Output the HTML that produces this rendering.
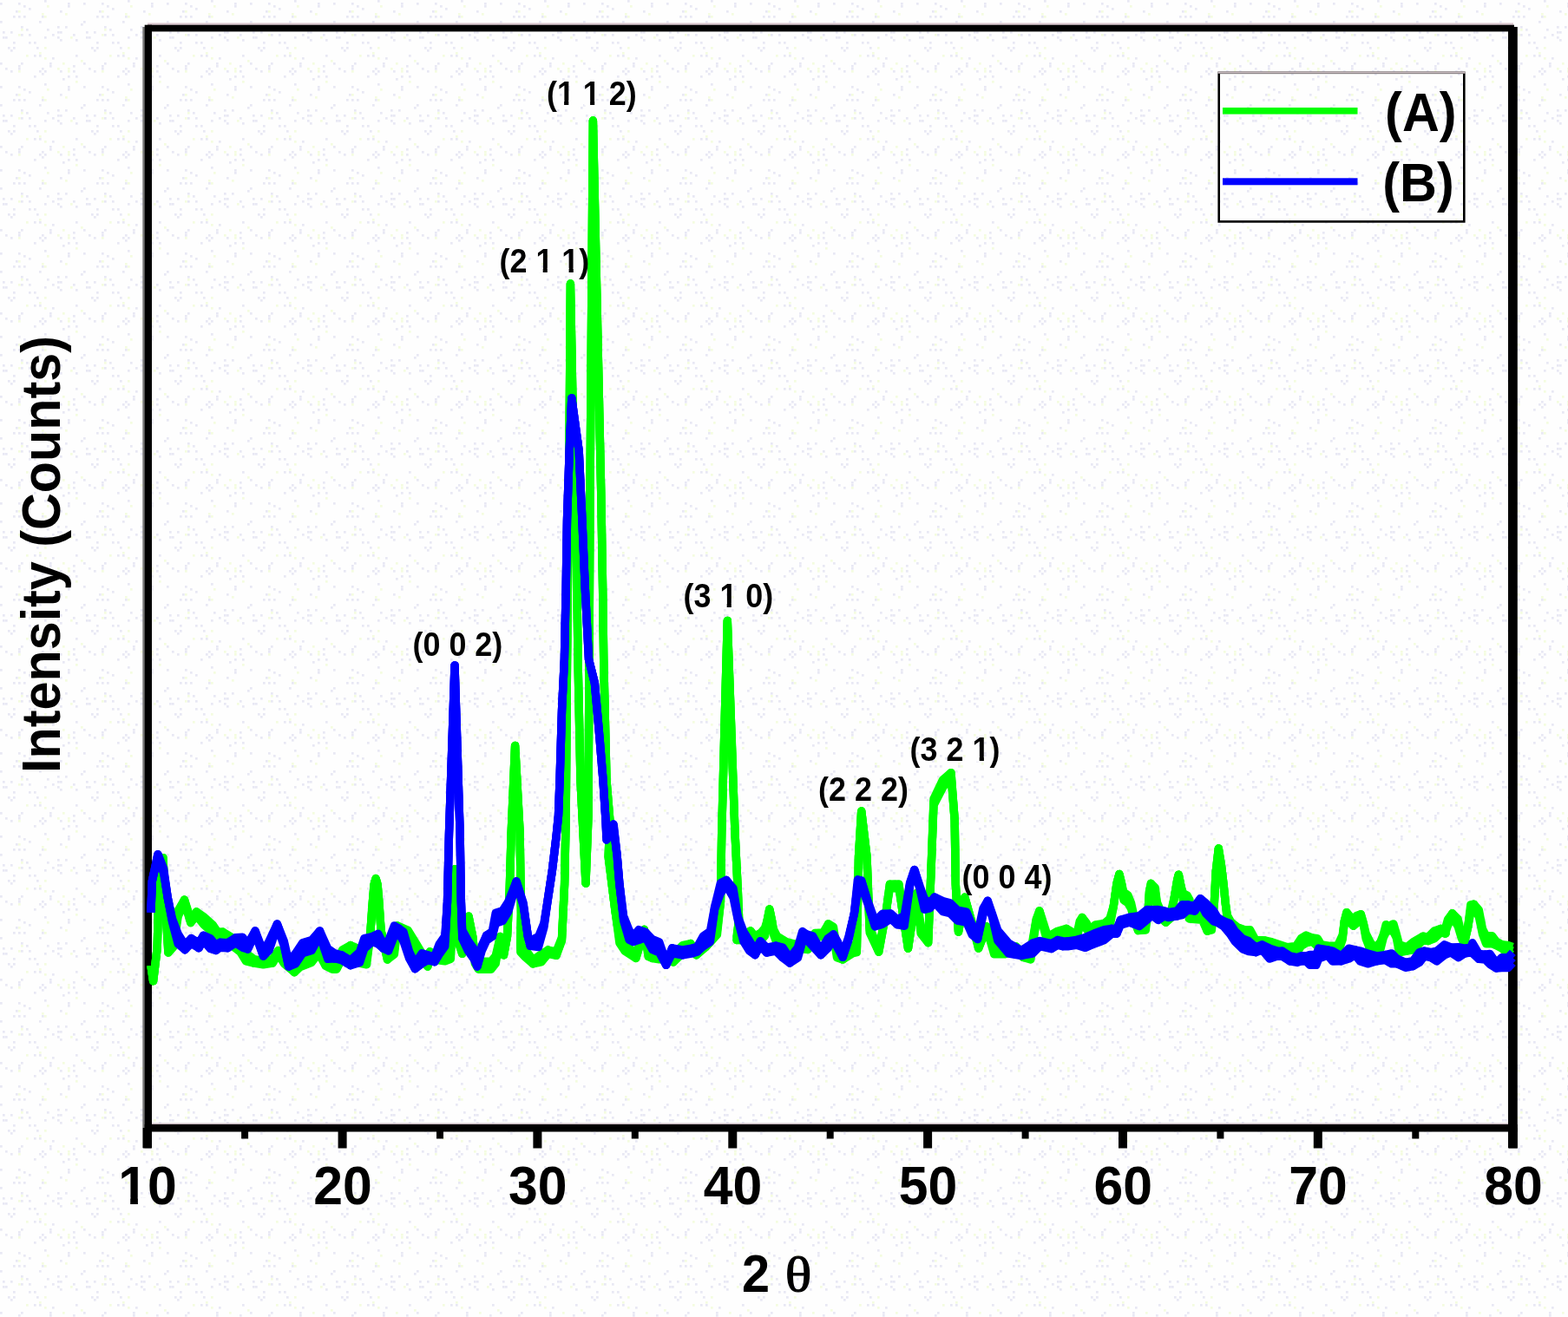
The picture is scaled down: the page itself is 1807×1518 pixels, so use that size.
<!DOCTYPE html>
<html lang="en">
<head>
<meta charset="utf-8">
<title>XRD pattern</title>
<style>
html,body{margin:0;padding:0;background:#fefefe;}
body{width:1807px;height:1518px;}
svg{display:block;}
text{font-family:"Liberation Sans",Arial,Helvetica,sans-serif;font-weight:bold;fill:#000;}
.tick text{font-size:62.6px;}
.pk text{font-size:38px;}
.lg text{font-size:63px;}
.curve{fill:none;stroke-linejoin:round;stroke-linecap:butt;}
</style>
</head>
<body>
<svg width="1807" height="1518" viewBox="0 0 1807 1518">
<defs><pattern id="nz" width="96" height="96" patternUnits="userSpaceOnUse"><rect x="69" y="45" width="2.7" height="2.7" fill="#e8e8f4"/><rect x="48" y="84" width="2.7" height="2.7" fill="#e8e8f4"/><rect x="15" y="54" width="2.7" height="2.7" fill="#e8e8f4"/><rect x="78" y="3" width="2.7" height="2.7" fill="#e8e8f4"/><rect x="84" y="75" width="2.7" height="2.7" fill="#e8e8f4"/><rect x="21" y="3" width="2.7" height="2.7" fill="#e8e8f4"/><rect x="78" y="87" width="2.7" height="2.7" fill="#e8e8f4"/><rect x="3" y="36" width="2.7" height="2.7" fill="#e8e8f4"/><rect x="21" y="78" width="2.7" height="2.7" fill="#e8e8f4"/><rect x="27" y="18" width="2.7" height="2.7" fill="#e8e8f4"/><rect x="45" y="81" width="2.7" height="2.7" fill="#e8e8f4"/><rect x="87" y="93" width="2.7" height="2.7" fill="#f4fce0"/><rect x="0" y="24" width="2.7" height="2.7" fill="#e8e8f4"/><rect x="12" y="57" width="2.7" height="2.7" fill="#e8e8f4"/><rect x="69" y="81" width="2.7" height="2.7" fill="#e8e8f4"/><rect x="39" y="48" width="2.7" height="2.7" fill="#e8e8f4"/><rect x="21" y="18" width="2.7" height="2.7" fill="#e8e8f4"/><rect x="48" y="15" width="2.7" height="2.7" fill="#f4fce0"/><rect x="48" y="78" width="2.7" height="2.7" fill="#e8e8f4"/><rect x="78" y="81" width="2.7" height="2.7" fill="#f4fce0"/><rect x="42" y="54" width="2.7" height="2.7" fill="#e8e8f4"/><rect x="72" y="72" width="2.7" height="2.7" fill="#f4fce0"/><rect x="51" y="66" width="2.7" height="2.7" fill="#f4fce0"/><rect x="21" y="81" width="2.7" height="2.7" fill="#f4fce0"/><rect x="81" y="42" width="2.7" height="2.7" fill="#f4fce0"/><rect x="30" y="63" width="2.7" height="2.7" fill="#f4fce0"/><rect x="51" y="0" width="2.7" height="2.7" fill="#e8e8f4"/><rect x="51" y="81" width="2.7" height="2.7" fill="#e8e8f4"/><rect x="54" y="33" width="2.7" height="2.7" fill="#e8e8f4"/><rect x="24" y="33" width="2.7" height="2.7" fill="#f4fce0"/><rect x="12" y="81" width="2.7" height="2.7" fill="#e8e8f4"/><rect x="48" y="18" width="2.7" height="2.7" fill="#e8e8f4"/><rect x="33" y="48" width="2.7" height="2.7" fill="#e8e8f4"/><rect x="75" y="30" width="2.7" height="2.7" fill="#e8e8f4"/><rect x="21" y="39" width="2.7" height="2.7" fill="#f4fce0"/><rect x="87" y="87" width="2.7" height="2.7" fill="#e8e8f4"/><rect x="0" y="72" width="2.7" height="2.7" fill="#e8e8f4"/><rect x="60" y="66" width="2.7" height="2.7" fill="#e8e8f4"/><rect x="3" y="42" width="2.7" height="2.7" fill="#e8e8f4"/><rect x="6" y="78" width="2.7" height="2.7" fill="#e8e8f4"/><rect x="21" y="12" width="2.7" height="2.7" fill="#f4fce0"/><rect x="57" y="75" width="2.7" height="2.7" fill="#e8e8f4"/><rect x="6" y="42" width="2.7" height="2.7" fill="#e8e8f4"/><rect x="39" y="63" width="2.7" height="2.7" fill="#e8e8f4"/><rect x="9" y="54" width="2.7" height="2.7" fill="#e8e8f4"/><rect x="57" y="72" width="2.7" height="2.7" fill="#e8e8f4"/><rect x="18" y="12" width="2.7" height="2.7" fill="#e8e8f4"/><rect x="21" y="75" width="2.7" height="2.7" fill="#e8e8f4"/><rect x="69" y="12" width="2.7" height="2.7" fill="#e8e8f4"/><rect x="78" y="6" width="2.7" height="2.7" fill="#e8e8f4"/><rect x="75" y="15" width="2.7" height="2.7" fill="#f4fce0"/><rect x="69" y="36" width="2.7" height="2.7" fill="#e8e8f4"/><rect x="15" y="48" width="2.7" height="2.7" fill="#e8e8f4"/><rect x="66" y="36" width="2.7" height="2.7" fill="#e8e8f4"/><rect x="60" y="39" width="2.7" height="2.7" fill="#e8e8f4"/><rect x="15" y="18" width="2.7" height="2.7" fill="#e8e8f4"/><rect x="24" y="30" width="2.7" height="2.7" fill="#e8e8f4"/><rect x="45" y="63" width="2.7" height="2.7" fill="#e8e8f4"/><rect x="87" y="63" width="2.7" height="2.7" fill="#e8e8f4"/><rect x="33" y="39" width="2.7" height="2.7" fill="#e8e8f4"/><rect x="30" y="33" width="2.7" height="2.7" fill="#e8e8f4"/><rect x="51" y="42" width="2.7" height="2.7" fill="#e8e8f4"/><rect x="93" y="27" width="2.7" height="2.7" fill="#e8e8f4"/><rect x="39" y="87" width="2.7" height="2.7" fill="#e8e8f4"/><rect x="66" y="42" width="2.7" height="2.7" fill="#e8e8f4"/><rect x="93" y="69" width="2.7" height="2.7" fill="#f4fce0"/><rect x="24" y="39" width="2.7" height="2.7" fill="#e8e8f4"/><rect x="33" y="9" width="2.7" height="2.7" fill="#e8e8f4"/><rect x="66" y="78" width="2.7" height="2.7" fill="#f4fce0"/><rect x="51" y="18" width="2.7" height="2.7" fill="#f4fce0"/><rect x="84" y="81" width="2.7" height="2.7" fill="#e8e8f4"/><rect x="66" y="30" width="2.7" height="2.7" fill="#e8e8f4"/><rect x="45" y="60" width="2.7" height="2.7" fill="#f4fce0"/><rect x="72" y="90" width="2.7" height="2.7" fill="#e8e8f4"/><rect x="87" y="45" width="2.7" height="2.7" fill="#e8e8f4"/><rect x="0" y="3" width="2.7" height="2.7" fill="#e8e8f4"/><rect x="51" y="54" width="2.7" height="2.7" fill="#f4fce0"/><rect x="78" y="78" width="2.7" height="2.7" fill="#f4fce0"/><rect x="27" y="6" width="2.7" height="2.7" fill="#e8e8f4"/><rect x="45" y="24" width="2.7" height="2.7" fill="#e8e8f4"/><rect x="84" y="39" width="2.7" height="2.7" fill="#e8e8f4"/><rect x="24" y="72" width="2.7" height="2.7" fill="#e8e8f4"/><rect x="54" y="6" width="2.7" height="2.7" fill="#f4fce0"/><rect x="12" y="36" width="2.7" height="2.7" fill="#e8e8f4"/></pattern></defs>
<rect x="0" y="0" width="1807" height="1518" fill="#fefefe"/>
<rect x="0" y="0" width="1807" height="1518" fill="url(#nz)"/>
<!-- frame -->
<g fill="#000">
<rect x="164.3" y="31" width="3" height="1292" fill="#777"/>
<rect x="170" y="26.5" width="1574" height="2.2" fill="#d9c4cc"/>
<rect x="166.7" y="28.7" width="8.3" height="1294.5"/>
<rect x="170" y="28.7" width="1575" height="7.7"/>
<rect x="1738" y="31" width="10.8" height="1292.3"/>
<rect x="175" y="1294.6" width="1563" height="1.6" fill="#c4b4bc"/>
<rect x="166.7" y="1296" width="1582" height="8.5"/>
<rect x="164.7" y="1300" width="10" height="23.5"/>
<rect x="278.1" y="1300" width="8" height="12.5"/>
<rect x="389.6" y="1300" width="10" height="23.5"/>
<rect x="503.0" y="1300" width="8" height="12.5"/>
<rect x="614.4" y="1300" width="10" height="23.5"/>
<rect x="727.8" y="1300" width="8" height="12.5"/>
<rect x="839.3" y="1300" width="10" height="23.5"/>
<rect x="952.7" y="1300" width="8" height="12.5"/>
<rect x="1064.1" y="1300" width="10" height="23.5"/>
<rect x="1177.6" y="1300" width="8" height="12.5"/>
<rect x="1289.0" y="1300" width="10" height="23.5"/>
<rect x="1402.4" y="1300" width="8" height="12.5"/>
<rect x="1513.8" y="1300" width="10" height="23.5"/>
<rect x="1627.3" y="1300" width="8" height="12.5"/>
<rect x="1738.7" y="1300" width="10" height="23.5"/>
</g>
<g class="tick">
<text transform="translate(170.0,1388.4) scale(0.97,1)" text-anchor="middle">10</text>
<text transform="translate(394.9,1388.4) scale(0.97,1)" text-anchor="middle">20</text>
<text transform="translate(619.7,1388.4) scale(0.97,1)" text-anchor="middle">30</text>
<text transform="translate(844.6,1388.4) scale(0.97,1)" text-anchor="middle">40</text>
<text transform="translate(1069.4,1388.4) scale(0.97,1)" text-anchor="middle">50</text>
<text transform="translate(1294.3,1388.4) scale(0.97,1)" text-anchor="middle">60</text>
<text transform="translate(1519.1,1388.4) scale(0.97,1)" text-anchor="middle">70</text>
<text transform="translate(1744.0,1388.4) scale(0.97,1)" text-anchor="middle">80</text>
</g>
<!-- curves -->
<polyline class="curve" stroke="#00ff00" stroke-width="9.4" points="173.9,1112.7 176.6,1130.7 181.2,1092.8 183.2,1015.8 187.9,988.6 191.2,1053.0 193.9,1094.1 199.8,1083.5 205.2,1049.7 212.5,1037.0 219.8,1059.8 226.4,1051.0 234.4,1056.4 245.0,1065.7 250.3,1073.7 256.9,1074.2 264.9,1079.0 276.9,1088.3 283.5,1098.9 292.8,1105.6 303.4,1107.4 314.1,1105.6 320.7,1095.5 327.3,1101.6 339.3,1116.2 345.9,1105.6 359.2,1100.3 367.2,1094.1 375.1,1104.2 383.1,1108.2 388.0,1108.2 394.6,1094.9 403.9,1089.5 410.5,1092.3 414.5,1105.6 422.5,1102.9 426.5,1079.5 429.4,1039.7 431.1,1019.2 433.1,1012.5 435.1,1019.2 436.8,1039.7 439.1,1072.9 446.4,1101.6 454.4,1091.0 457.7,1066.9 470.3,1072.4 480.9,1089.8 492.9,1109.9 495.5,1096.8 500.8,1101.6 512.8,1098.9 519.4,1096.3 522.1,1026.4 524.1,1001.8 526.1,1026.4 528.7,1084.9 532.7,1098.1 538.0,1079.1 540.0,1056.3 544.7,1079.5 547.3,1101.9 551.3,1108.2 565.9,1108.2 571.2,1101.6 576.5,1079.5 580.5,1100.8 584.5,1079.5 587.2,1026.4 589.2,960.0 593.6,859.5 599.1,960.0 600.5,1053.0 599.8,1088.3 604.7,1093.7 614.2,1106.3 623.7,1100.0 631.6,1095.0 641.1,1096.8 647.5,1080.5 650.6,1019.1 652.2,940.0 653.5,760.0 656.0,520.0 657.4,327.0 661.0,520.0 664.0,600.0 666.0,760.0 669.0,900.0 675.0,1018.0 678.0,940.0 679.0,760.0 680.0,567.0 683.4,139.0 692.7,567.0 694.6,678.0 695.7,760.0 699.0,900.0 702.8,945.0 701.2,987.5 709.1,1050.7 713.9,1077.9 720.2,1087.4 732.9,1100.0 739.2,1081.4 742.4,1071.3 747.1,1093.7 751.9,1100.0 759.8,1101.3 774.0,1101.6 775.9,1100.3 786.6,1089.6 795.9,1087.5 802.5,1096.3 813.1,1083.0 826.4,1068.4 830.4,1039.7 831.7,960.0 838.3,715.5 847.0,960.0 850.3,1026.4 851.6,1059.6 849.0,1079.0 860.9,1075.0 864.9,1072.9 870.2,1079.0 876.9,1075.0 881.5,1069.7 884.2,1060.9 886.8,1047.9 889.5,1060.9 891.5,1071.2 895.5,1079.0 906.1,1085.6 916.7,1088.3 931.3,1085.6 939.3,1075.5 948.6,1075.0 954.6,1064.9 960.5,1068.4 964.5,1094.9 971.2,1101.6 983.1,1089.6 987.4,1088.6 989.5,987.6 992.7,934.9 999.0,987.6 1002.2,1069.1 1012.7,1094.4 1021.2,1050.9 1025.4,1019.2 1031.7,1019.0 1035.9,1019.2 1040.1,1050.9 1046.5,1093.1 1052.8,1050.9 1056.0,1029.8 1061.2,1067.9 1069.7,1082.6 1072.8,1008.7 1076.0,920.8 1086.5,898.8 1096.0,890.6 1100.2,945.4 1101.3,1019.2 1104.5,1074.1 1111.8,1034.0 1122.4,1071.3 1127.7,1090.7 1137.1,1067.8 1145.6,1090.7 1158.2,1090.7 1170.9,1090.9 1179.3,1099.1 1187.8,1097.0 1194.1,1059.7 1197.9,1049.8 1205.8,1074.1 1208.7,1079.0 1218.8,1073.2 1229.0,1070.4 1236.2,1074.6 1240.6,1079.0 1244.2,1061.9 1247.1,1057.4 1252.2,1063.9 1256.5,1071.7 1262.3,1065.9 1272.5,1064.5 1279.0,1058.7 1283.3,1044.3 1287.0,1017.9 1289.9,1007.4 1292.5,1018.3 1294.9,1028.3 1300.0,1031.9 1303.6,1041.0 1307.2,1057.2 1311.6,1068.1 1320.3,1063.0 1323.2,1048.7 1324.6,1027.0 1326.4,1018.3 1331.2,1023.1 1333.3,1039.8 1337.0,1048.6 1343.5,1058.8 1350.0,1048.6 1353.6,1032.8 1356.8,1013.7 1358.3,1008.1 1360.9,1021.2 1363.5,1029.7 1368.1,1031.9 1371.0,1037.3 1370.3,1050.0 1385.5,1051.4 1391.3,1068.8 1396.4,1063.0 1399.3,1041.4 1401.2,1005.2 1404.3,978.0 1407.5,998.0 1410.1,1019.7 1412.3,1041.4 1414.5,1055.2 1418.8,1063.0 1426.1,1068.8 1434.8,1071.9 1440.6,1071.7 1446.4,1082.4 1445.8,1083.0 1457.4,1083.9 1466.1,1085.9 1483.5,1091.7 1493.6,1090.3 1499.4,1081.6 1505.2,1078.0 1512.5,1081.0 1518.3,1081.6 1522.6,1088.8 1532.8,1090.3 1541.4,1090.3 1547.2,1077.6 1549.4,1061.3 1551.9,1051.6 1555.9,1056.3 1559.6,1063.5 1563.2,1055.5 1568.3,1053.8 1571.2,1063.6 1574.1,1075.8 1579.1,1085.9 1584.9,1093.2 1590.7,1085.9 1594.3,1077.0 1597.2,1065.6 1600.1,1067.5 1605.9,1064.9 1609.3,1076.6 1612.5,1088.8 1621.2,1091.7 1628.4,1085.9 1640.0,1079.1 1645.8,1080.1 1653.0,1072.9 1660.3,1070.4 1666.1,1071.4 1665.3,1071.3 1668.5,1059.8 1673.7,1052.7 1680.1,1059.1 1684.3,1076.8 1687.4,1085.2 1691.7,1068.5 1694.8,1042.9 1698.5,1042.2 1704.3,1048.8 1708.5,1070.7 1712.7,1078.8 1719.6,1078.8 1724.3,1085.1 1730.7,1088.6 1737.0,1089.3 1743.3,1091.4"/>
<polyline class="curve" stroke="#00ff00" stroke-width="9.4" points="173.9,1112.7 176.6,1130.7 181.2,1092.8 183.2,1015.8 187.9,988.6 191.2,1053.0 193.9,1098.1 199.8,1091.5 205.2,1056.3 212.5,1040.3 219.8,1063.6 226.4,1055.5 234.4,1065.4 245.0,1074.7 250.3,1078.2 256.9,1078.7 264.9,1088.0 276.9,1097.3 283.5,1107.9 292.8,1110.1 303.4,1111.9 314.1,1110.1 320.7,1099.8 327.3,1110.6 339.3,1120.7 345.9,1114.6 359.2,1109.3 367.2,1098.6 375.1,1113.2 383.1,1117.2 388.0,1117.2 394.6,1103.9 403.9,1094.0 410.5,1101.3 414.5,1110.1 422.5,1111.9 426.5,1079.5 429.4,1039.7 431.1,1020.4 433.1,1013.1 435.1,1020.4 436.8,1039.7 439.1,1072.9 446.4,1106.1 454.4,1100.0 457.7,1071.4 470.3,1081.4 480.9,1098.4 492.9,1114.1 495.5,1100.8 500.8,1106.1 512.8,1107.9 519.4,1105.3 522.1,1026.4 524.1,1001.8 526.1,1026.4 528.7,1087.5 532.7,1099.4 538.0,1079.9 540.0,1056.3 544.7,1079.5 547.3,1110.3 551.3,1117.2 565.9,1117.2 571.2,1110.6 576.5,1079.5 580.5,1100.8 584.5,1079.5 587.2,1026.4 589.2,960.0 593.6,859.5 599.1,960.0 600.5,1053.0 599.8,1097.3 604.7,1102.7 614.2,1110.8 623.7,1109.0 631.6,1099.5 641.1,1101.3 647.5,1084.3 650.6,1019.1 652.2,940.0 653.5,760.0 656.0,520.0 657.4,327.0 661.0,520.0 664.0,600.0 666.0,760.0 669.0,900.0 675.0,1018.0 678.0,940.0 679.0,760.0 680.0,567.0 683.4,139.0 692.7,567.0 694.6,678.0 695.7,760.0 699.0,900.0 702.8,945.0 701.2,987.5 709.1,1050.7 713.9,1086.9 720.2,1096.4 732.9,1104.5 739.2,1083.4 742.4,1072.3 747.1,1102.7 751.9,1104.5 759.8,1105.8 774.0,1106.1 775.9,1109.3 786.6,1098.6 795.9,1092.0 802.5,1100.8 813.1,1092.0 826.4,1077.4 830.4,1039.7 831.7,960.0 838.3,715.5 847.0,960.0 850.3,1026.4 851.6,1059.6 849.0,1083.5 860.9,1084.0 864.9,1077.1 870.2,1083.5 876.9,1084.0 881.5,1078.7 884.2,1060.9 886.8,1047.9 889.5,1060.9 891.5,1077.2 895.5,1088.0 906.1,1094.6 916.7,1092.8 931.3,1094.6 939.3,1080.0 948.6,1079.5 954.6,1069.4 960.5,1077.4 964.5,1103.9 971.2,1106.1 983.1,1098.6 987.4,1097.6 989.5,987.6 992.7,934.9 999.0,987.6 1002.2,1074.9 1012.7,1097.3 1021.2,1050.9 1025.4,1023.7 1031.7,1023.5 1035.9,1023.7 1040.1,1050.9 1046.5,1093.1 1052.8,1050.9 1056.0,1029.8 1061.2,1076.1 1069.7,1086.7 1072.8,1008.7 1076.0,928.0 1086.5,907.8 1096.0,895.1 1100.2,945.4 1101.3,1019.2 1104.5,1074.1 1111.8,1034.7 1122.4,1072.7 1127.7,1093.1 1137.1,1070.2 1145.6,1099.7 1158.2,1099.7 1170.9,1095.4 1179.3,1103.6 1187.8,1106.0 1194.1,1063.1 1197.9,1051.5 1205.8,1081.3 1208.7,1083.5 1218.8,1082.2 1229.0,1074.9 1236.2,1083.6 1240.6,1083.5 1244.2,1067.3 1247.1,1061.0 1252.2,1071.1 1256.5,1076.2 1262.3,1074.9 1272.5,1073.5 1279.0,1067.7 1283.3,1044.3 1287.0,1018.7 1289.9,1007.8 1292.5,1018.3 1294.9,1037.3 1300.0,1040.9 1303.6,1047.5 1307.2,1060.4 1311.6,1072.6 1320.3,1072.0 1323.2,1048.7 1324.6,1027.0 1326.4,1022.2 1331.2,1030.9 1333.3,1043.0 1337.0,1057.4 1343.5,1063.2 1350.0,1057.4 1353.6,1032.8 1356.8,1014.1 1358.3,1008.3 1360.9,1021.2 1363.5,1038.7 1368.1,1040.9 1371.0,1045.5 1370.3,1059.0 1385.5,1060.4 1391.3,1073.3 1396.4,1072.0 1399.3,1041.4 1401.2,1005.2 1404.3,978.0 1407.5,998.0 1410.1,1019.7 1412.3,1041.4 1414.5,1062.4 1418.8,1072.0 1426.1,1073.3 1434.8,1076.4 1440.6,1080.7 1446.4,1090.4 1445.8,1087.5 1457.4,1088.4 1466.1,1094.9 1483.5,1096.2 1493.6,1099.3 1499.4,1090.6 1505.2,1087.0 1512.5,1085.5 1518.3,1090.6 1522.6,1097.8 1532.8,1099.3 1541.4,1099.3 1547.2,1083.0 1549.4,1061.5 1551.9,1055.0 1555.9,1063.7 1559.6,1067.2 1563.2,1064.5 1568.3,1058.3 1571.2,1065.0 1574.1,1081.8 1579.1,1094.9 1584.9,1097.7 1590.7,1094.9 1594.3,1080.6 1597.2,1074.6 1600.1,1072.0 1605.9,1073.9 1609.3,1081.0 1612.5,1097.8 1621.2,1096.2 1628.4,1094.9 1640.0,1083.6 1645.8,1084.6 1653.0,1081.9 1660.3,1074.9 1666.1,1075.9 1665.3,1076.3 1668.5,1066.8 1673.7,1056.9 1680.1,1067.5 1684.3,1081.4 1687.4,1087.5 1691.7,1068.5 1694.8,1051.9 1698.5,1046.7 1704.3,1056.6 1708.5,1076.9 1712.7,1087.8 1719.6,1087.8 1724.3,1089.6 1730.7,1093.1 1737.0,1098.3 1743.3,1100.4"/>
<polyline class="curve" stroke="#00ff00" stroke-width="9.4" points="173.9,1112.7 176.6,1130.7 181.2,1092.8 183.2,1015.8 187.9,988.6 191.2,1053.0 193.9,1098.1 199.8,1087.5 205.2,1053.0 212.5,1037.0 219.8,1063.6 226.4,1051.0 234.4,1060.9 245.0,1070.2 250.3,1078.2 256.9,1074.2 264.9,1083.5 276.9,1092.8 283.5,1103.4 292.8,1110.1 303.4,1107.4 314.1,1110.1 320.7,1095.5 327.3,1106.1 339.3,1120.7 345.9,1110.1 359.2,1104.8 367.2,1094.1 375.1,1108.7 383.1,1112.7 388.0,1112.7 394.6,1099.4 403.9,1089.5 410.5,1096.8 414.5,1110.1 422.5,1107.4 426.5,1079.5 429.4,1039.7 431.1,1019.8 433.1,1012.5 435.1,1019.8 436.8,1039.7 439.1,1072.9 446.4,1106.1 454.4,1095.5 457.7,1066.9 470.3,1076.9 480.9,1094.1 492.9,1114.1 495.5,1096.8 500.8,1106.1 512.8,1103.4 519.4,1100.8 522.1,1026.4 524.1,1001.8 526.1,1026.4 528.7,1086.2 532.7,1099.4 538.0,1079.5 540.0,1056.3 544.7,1079.5 547.3,1106.1 551.3,1112.7 565.9,1112.7 571.2,1106.1 576.5,1079.5 580.5,1100.8 584.5,1079.5 587.2,1026.4 589.2,960.0 593.6,859.5 599.1,960.0 600.5,1053.0 599.8,1092.8 604.7,1098.2 614.2,1110.8 623.7,1104.5 631.6,1095.0 641.1,1101.3 647.5,1082.4 650.6,1019.1 652.2,940.0 653.5,760.0 656.0,520.0 657.4,327.0 661.0,520.0 664.0,600.0 666.0,760.0 669.0,900.0 675.0,1018.0 678.0,940.0 679.0,760.0 680.0,567.0 683.4,139.0 692.7,567.0 694.6,678.0 695.7,760.0 699.0,900.0 702.8,945.0 701.2,987.5 709.1,1050.7 713.9,1082.4 720.2,1091.9 732.9,1104.5 739.2,1082.4 742.4,1071.3 747.1,1098.2 751.9,1104.5 759.8,1101.3 774.0,1106.1 775.9,1104.8 786.6,1094.1 795.9,1087.5 802.5,1100.8 813.1,1087.5 826.4,1072.9 830.4,1039.7 831.7,960.0 838.3,715.5 847.0,960.0 850.3,1026.4 851.6,1059.6 849.0,1083.5 860.9,1079.5 864.9,1072.9 870.2,1083.5 876.9,1079.5 881.5,1074.2 884.2,1060.9 886.8,1047.9 889.5,1060.9 891.5,1074.2 895.5,1083.5 906.1,1090.1 916.7,1092.8 931.3,1090.1 939.3,1075.5 948.6,1079.5 954.6,1064.9 960.5,1072.9 964.5,1099.4 971.2,1106.1 983.1,1094.1 987.4,1093.1 989.5,987.6 992.7,934.9 999.0,987.6 1002.2,1072.0 1012.7,1097.3 1021.2,1050.9 1025.4,1019.2 1031.7,1023.5 1035.9,1019.2 1040.1,1050.9 1046.5,1093.1 1052.8,1050.9 1056.0,1029.8 1061.2,1072.0 1069.7,1086.7 1072.8,1008.7 1076.0,924.4 1086.5,903.3 1096.0,890.6 1100.2,945.4 1101.3,1019.2 1104.5,1074.1 1111.8,1034.0 1122.4,1072.0 1127.7,1093.1 1137.1,1067.8 1145.6,1095.2 1158.2,1095.2 1170.9,1090.9 1179.3,1103.6 1187.8,1101.5 1194.1,1061.4 1197.9,1049.8 1205.8,1077.7 1208.7,1083.5 1218.8,1077.7 1229.0,1070.4 1236.2,1079.1 1240.6,1083.5 1244.2,1064.6 1247.1,1057.4 1252.2,1067.5 1256.5,1076.2 1262.3,1070.4 1272.5,1069.0 1279.0,1063.2 1283.3,1044.3 1287.0,1018.3 1289.9,1007.4 1292.5,1018.3 1294.9,1032.8 1300.0,1036.4 1303.6,1044.3 1307.2,1058.8 1311.6,1072.6 1320.3,1067.5 1323.2,1048.7 1324.6,1027.0 1326.4,1018.3 1331.2,1027.0 1333.3,1041.4 1337.0,1053.0 1343.5,1063.2 1350.0,1053.0 1353.6,1032.8 1356.8,1013.9 1358.3,1008.1 1360.9,1021.2 1363.5,1034.2 1368.1,1036.4 1371.0,1041.4 1370.3,1054.5 1385.5,1055.9 1391.3,1073.3 1396.4,1067.5 1399.3,1041.4 1401.2,1005.2 1404.3,978.0 1407.5,998.0 1410.1,1019.7 1412.3,1041.4 1414.5,1058.8 1418.8,1067.5 1426.1,1073.3 1434.8,1071.9 1440.6,1076.2 1446.4,1086.4 1445.8,1087.5 1457.4,1083.9 1466.1,1090.4 1483.5,1096.2 1493.6,1094.8 1499.4,1086.1 1505.2,1082.5 1512.5,1081.0 1518.3,1086.1 1522.6,1093.3 1532.8,1094.8 1541.4,1094.8 1547.2,1080.3 1549.4,1061.4 1551.9,1051.6 1555.9,1060.0 1559.6,1067.2 1563.2,1060.0 1568.3,1053.8 1571.2,1064.3 1574.1,1078.8 1579.1,1090.4 1584.9,1097.7 1590.7,1090.4 1594.3,1078.8 1597.2,1070.1 1600.1,1067.5 1605.9,1069.4 1609.3,1078.8 1612.5,1093.3 1621.2,1096.2 1628.4,1090.4 1640.0,1079.1 1645.8,1084.6 1653.0,1077.4 1660.3,1070.4 1666.1,1075.9 1665.3,1073.8 1668.5,1063.3 1673.7,1052.7 1680.1,1063.3 1684.3,1079.1 1687.4,1087.5 1691.7,1068.5 1694.8,1047.4 1698.5,1042.2 1704.3,1052.7 1708.5,1073.8 1712.7,1083.3 1719.6,1083.3 1724.3,1089.6 1730.7,1088.6 1737.0,1093.8 1743.3,1095.9"/>

<polyline class="curve" stroke="#0000ff" stroke-width="9.4" points="173.9,1051.6 175.3,1015.8 181.9,984.6 188.6,1001.1 193.2,1034.4 198.5,1058.9 205.2,1076.4 213.1,1089.0 220.4,1081.5 229.1,1086.8 234.4,1078.2 242.3,1081.5 249.0,1089.5 253.6,1086.2 262.3,1086.8 271.6,1080.8 279.5,1080.2 285.5,1088.1 294.1,1072.9 303.4,1096.8 310.1,1084.8 319.4,1064.9 327.3,1084.8 332.6,1108.1 340.6,1098.8 348.6,1086.8 359.2,1083.5 368.5,1072.9 377.8,1093.4 385.8,1098.8 393.7,1100.8 403.9,1106.7 414.5,1097.4 419.8,1081.5 429.1,1079.5 435.8,1076.2 441.1,1086.8 447.7,1084.1 454.4,1066.9 459.7,1070.2 465.0,1074.1 471.6,1096.9 478.3,1110.7 486.2,1098.8 492.9,1100.8 500.8,1102.7 506.2,1088.1 512.8,1078.8 515.5,1039.7 517.5,960.0 524.0,767.0 530.1,960.0 531.4,1039.7 532.7,1072.0 539.4,1084.1 546.0,1093.4 550.0,1113.3 555.3,1089.8 560.6,1078.2 567.3,1073.5 571.2,1052.3 579.2,1049.6 585.8,1039.3 595.1,1015.8 603.1,1040.6 608.4,1079.5 611.1,1084.3 620.6,1079.5 626.9,1064.1 631.6,1034.9 636.4,1003.3 641.1,963.7 643.5,940.0 645.1,898.0 647.5,819.0 650.4,760.0 652.2,678.0 653.5,599.0 656.2,520.0 658.8,459.0 667.2,520.0 670.9,599.0 674.3,678.0 678.5,760.0 685.4,787.5 691.0,850.7 694.9,898.0 698.0,945.0 699.0,963.8 707.0,950.0 711.0,985.0 713.9,1019.1 718.6,1056.1 725.0,1072.0 729.7,1079.5 736.0,1071.6 743.9,1074.5 751.9,1082.7 759.8,1085.9 767.7,1109.0 774.6,1092.8 786.6,1094.8 798.5,1092.8 803.8,1090.8 810.5,1078.8 818.4,1073.5 823.7,1044.8 830.4,1017.7 837.0,1014.4 845.0,1023.9 850.3,1056.4 856.9,1073.7 863.6,1084.3 870.2,1095.1 876.2,1084.8 883.5,1092.1 894.1,1090.1 902.1,1092.1 910.1,1104.1 919.4,1092.1 924.7,1073.5 929.3,1076.9 936.6,1078.8 945.9,1095.2 953.9,1081.8 960.5,1076.9 965.8,1086.4 971.2,1099.7 977.8,1080.3 984.4,1053.0 988.4,1013.8 992.7,1015.0 1000.1,1038.6 1008.5,1061.8 1016.9,1053.3 1026.4,1053.0 1033.8,1059.6 1042.2,1055.4 1048.6,1017.4 1053.8,1002.4 1060.2,1021.8 1065.4,1036.4 1071.8,1040.7 1077.0,1034.0 1086.5,1038.6 1095.0,1040.7 1103.4,1049.1 1113.9,1051.2 1120.3,1066.4 1126.6,1076.9 1132.9,1047.1 1138.2,1038.2 1143.5,1053.2 1149.8,1072.3 1162.4,1087.1 1177.2,1095.5 1189.9,1087.1 1198.3,1084.6 1211.6,1087.6 1218.8,1083.5 1224.6,1084.7 1230.4,1084.9 1240.6,1083.3 1250.7,1080.4 1260.9,1076.0 1272.5,1071.7 1281.2,1070.4 1287.0,1070.2 1291.3,1060.3 1301.4,1057.2 1313.0,1055.7 1321.7,1048.5 1327.5,1048.7 1334.8,1048.5 1342.0,1049.9 1346.4,1051.6 1356.5,1049.9 1362.3,1042.7 1368.8,1042.9 1376.8,1044.1 1383.3,1035.7 1389.9,1041.2 1398.6,1049.9 1402.9,1057.2 1410.1,1061.7 1417.4,1064.4 1423.2,1073.1 1431.9,1081.8 1439.1,1084.7 1447.2,1091.7 1454.5,1089.0 1463.2,1093.1 1471.9,1096.0 1477.7,1096.2 1486.4,1101.8 1495.1,1103.5 1499.4,1101.8 1505.2,1102.0 1509.6,1100.4 1516.8,1100.4 1519.7,1093.1 1529.9,1094.8 1535.7,1096.0 1545.8,1101.8 1554.5,1093.1 1561.7,1094.8 1567.5,1096.0 1576.2,1098.9 1586.4,1101.8 1596.5,1100.6 1603.8,1098.9 1609.6,1104.7 1619.7,1109.3 1628.4,1107.6 1635.7,1097.5 1641.4,1096.2 1648.7,1097.5 1655.9,1096.0 1664.6,1088.8 1671.9,1091.9 1680.6,1091.7 1687.8,1093.1 1695.1,1091.9 1696.9,1086.8 1704.3,1099.4 1711.7,1100.2 1717.0,1099.4 1724.3,1110.0 1730.7,1103.6 1738.0,1103.6 1743.3,1097.8"/>
<polyline class="curve" stroke="#0000ff" stroke-width="9.4" points="173.9,1051.6 175.3,1015.8 181.9,987.3 188.6,1006.5 193.2,1034.4 198.5,1062.9 205.2,1088.0 213.1,1094.8 220.4,1087.5 229.1,1092.8 234.4,1084.2 242.3,1093.5 249.0,1095.5 253.6,1092.2 262.3,1092.8 271.6,1086.8 279.5,1092.2 285.5,1094.1 294.1,1076.6 303.4,1102.1 310.1,1095.4 319.4,1068.0 327.3,1090.2 332.6,1114.1 340.6,1110.8 348.6,1098.8 359.2,1095.5 368.5,1078.2 377.8,1105.4 385.8,1104.8 393.7,1106.8 403.9,1112.7 414.5,1109.4 419.8,1093.5 429.1,1085.5 435.8,1088.2 441.1,1092.8 447.7,1096.1 454.4,1078.9 459.7,1076.2 465.0,1084.9 471.6,1104.7 478.3,1116.7 486.2,1110.8 492.9,1106.8 500.8,1108.7 506.2,1100.1 512.8,1090.8 515.5,1039.7 517.5,960.0 524.0,767.0 530.1,960.0 531.4,1039.7 532.7,1081.8 539.4,1096.1 546.0,1105.4 550.0,1114.1 555.3,1095.8 560.6,1084.2 567.3,1079.5 571.2,1064.3 579.2,1061.6 585.8,1050.7 595.1,1017.9 603.1,1044.0 608.4,1079.5 611.1,1090.3 620.6,1091.5 626.9,1068.9 631.6,1034.9 636.4,1003.3 641.1,963.7 643.5,940.0 645.1,898.0 647.5,819.0 650.4,760.0 652.2,678.0 653.5,599.0 656.2,520.0 658.8,459.0 667.2,520.0 670.9,599.0 674.3,678.0 678.5,760.0 685.4,787.5 691.0,850.7 694.9,898.0 698.0,945.0 699.0,968.0 707.0,954.2 711.0,985.0 713.9,1019.1 718.6,1061.1 725.0,1083.2 729.7,1085.5 736.0,1083.6 743.9,1080.5 751.9,1094.7 759.8,1097.9 767.7,1112.4 774.6,1098.8 786.6,1100.8 798.5,1098.8 803.8,1096.8 810.5,1090.8 818.4,1085.5 823.7,1047.8 830.4,1029.7 837.0,1020.4 845.0,1034.3 850.3,1060.2 856.9,1085.3 863.6,1095.9 870.2,1100.8 876.2,1090.0 883.5,1098.1 894.1,1096.1 902.1,1104.1 910.1,1110.1 919.4,1104.1 924.7,1085.5 929.3,1082.9 936.6,1090.8 945.9,1100.8 953.9,1093.2 960.5,1082.6 965.8,1093.8 971.2,1103.4 977.8,1084.1 984.4,1053.0 988.4,1025.8 992.7,1021.0 1000.1,1042.0 1008.5,1067.8 1016.9,1065.3 1026.4,1059.0 1033.8,1065.6 1042.2,1067.4 1048.6,1021.0 1053.8,1004.2 1060.2,1025.2 1065.4,1048.4 1071.8,1046.7 1077.0,1040.0 1086.5,1050.6 1095.0,1052.7 1103.4,1061.1 1113.9,1063.2 1120.3,1077.6 1126.6,1082.5 1132.9,1054.7 1138.2,1042.0 1143.5,1057.0 1149.8,1084.3 1162.4,1099.1 1177.2,1101.5 1189.9,1099.1 1198.3,1090.6 1211.6,1093.6 1218.8,1089.5 1224.6,1090.7 1230.4,1090.9 1240.6,1089.3 1250.7,1092.4 1260.9,1088.0 1272.5,1083.7 1281.2,1076.4 1287.0,1076.2 1291.3,1066.3 1301.4,1063.2 1313.0,1067.7 1321.7,1060.5 1327.5,1054.7 1334.8,1060.5 1342.0,1055.9 1346.4,1057.6 1356.5,1055.9 1362.3,1054.7 1368.8,1048.9 1376.8,1050.1 1383.3,1041.1 1389.9,1053.2 1398.6,1061.9 1402.9,1063.2 1410.1,1067.7 1417.4,1076.4 1423.2,1085.1 1431.9,1093.8 1439.1,1096.7 1447.2,1097.7 1454.5,1095.0 1463.2,1105.1 1471.9,1102.0 1477.7,1102.2 1486.4,1107.8 1495.1,1109.5 1499.4,1107.8 1505.2,1108.0 1509.6,1112.4 1516.8,1112.4 1519.7,1105.1 1529.9,1100.8 1535.7,1108.0 1545.8,1107.8 1554.5,1105.1 1561.7,1100.8 1567.5,1108.0 1576.2,1110.9 1586.4,1107.8 1596.5,1106.6 1603.8,1110.9 1609.6,1110.7 1619.7,1115.3 1628.4,1113.6 1635.7,1109.5 1641.4,1102.2 1648.7,1103.5 1655.9,1108.0 1664.6,1100.8 1671.9,1097.9 1680.6,1103.7 1687.8,1099.1 1695.1,1097.9 1696.9,1098.8 1704.3,1105.4 1711.7,1106.2 1717.0,1111.4 1724.3,1116.0 1730.7,1115.6 1738.0,1115.6 1743.3,1109.8"/>
<polyline class="curve" stroke="#0000ff" stroke-width="9.4" points="173.9,1051.6 175.3,1015.8 181.9,984.6 188.6,1003.8 193.2,1034.4 198.5,1060.9 205.2,1082.2 213.1,1094.8 220.4,1081.5 229.1,1092.8 234.4,1078.2 242.3,1087.5 249.0,1095.5 253.6,1086.2 262.3,1092.8 271.6,1080.8 279.5,1086.2 285.5,1094.1 294.1,1072.9 303.4,1102.1 310.1,1090.1 319.4,1064.9 327.3,1087.5 332.6,1114.1 340.6,1104.8 348.6,1092.8 359.2,1089.5 368.5,1072.9 377.8,1099.4 385.8,1104.8 393.7,1100.8 403.9,1112.7 414.5,1103.4 419.8,1087.5 429.1,1079.5 435.8,1082.2 441.1,1092.8 447.7,1090.1 454.4,1072.9 459.7,1070.2 465.0,1079.5 471.6,1100.8 478.3,1116.7 486.2,1104.8 492.9,1100.8 500.8,1108.7 506.2,1094.1 512.8,1084.8 515.5,1039.7 517.5,960.0 524.0,767.0 530.1,960.0 531.4,1039.7 532.7,1076.9 539.4,1090.1 546.0,1099.4 550.0,1114.1 555.3,1092.8 560.6,1078.2 567.3,1079.5 571.2,1058.3 579.2,1055.6 585.8,1045.0 595.1,1015.8 603.1,1042.3 608.4,1079.5 611.1,1090.3 620.6,1085.5 626.9,1066.5 631.6,1034.9 636.4,1003.3 641.1,963.7 643.5,940.0 645.1,898.0 647.5,819.0 650.4,760.0 652.2,678.0 653.5,599.0 656.2,520.0 658.8,459.0 667.2,520.0 670.9,599.0 674.3,678.0 678.5,760.0 685.4,787.5 691.0,850.7 694.9,898.0 698.0,945.0 699.0,968.0 707.0,950.0 711.0,985.0 713.9,1019.1 718.6,1058.6 725.0,1077.6 729.7,1085.5 736.0,1077.6 743.9,1074.5 751.9,1088.7 759.8,1091.9 767.7,1112.4 774.6,1092.8 786.6,1100.8 798.5,1092.8 803.8,1096.8 810.5,1084.8 818.4,1079.5 823.7,1046.3 830.4,1023.7 837.0,1014.4 845.0,1029.1 850.3,1058.3 856.9,1079.5 863.6,1090.1 870.2,1100.8 876.2,1084.8 883.5,1098.1 894.1,1090.1 902.1,1098.1 910.1,1110.1 919.4,1098.1 924.7,1079.5 929.3,1076.9 936.6,1084.8 945.9,1100.8 953.9,1087.5 960.5,1076.9 965.8,1090.1 971.2,1103.4 977.8,1082.2 984.4,1053.0 988.4,1019.8 992.7,1015.0 1000.1,1040.3 1008.5,1067.8 1016.9,1059.3 1026.4,1053.0 1033.8,1065.6 1042.2,1061.4 1048.6,1019.2 1053.8,1002.4 1060.2,1023.5 1065.4,1042.4 1071.8,1046.7 1077.0,1034.0 1086.5,1044.6 1095.0,1046.7 1103.4,1055.1 1113.9,1057.2 1120.3,1072.0 1126.6,1082.5 1132.9,1050.9 1138.2,1038.2 1143.5,1055.1 1149.8,1078.3 1162.4,1093.1 1177.2,1101.5 1189.9,1093.1 1198.3,1084.6 1211.6,1093.6 1218.8,1083.5 1224.6,1090.7 1230.4,1084.9 1240.6,1089.3 1250.7,1086.4 1260.9,1082.0 1272.5,1077.7 1281.2,1070.4 1287.0,1076.2 1291.3,1060.3 1301.4,1063.2 1313.0,1061.7 1321.7,1054.5 1327.5,1048.7 1334.8,1054.5 1342.0,1055.9 1346.4,1051.6 1356.5,1055.9 1362.3,1048.7 1368.8,1042.9 1376.8,1050.1 1383.3,1035.7 1389.9,1047.2 1398.6,1055.9 1402.9,1063.2 1410.1,1061.7 1417.4,1070.4 1423.2,1079.1 1431.9,1087.8 1439.1,1090.7 1447.2,1097.7 1454.5,1089.0 1463.2,1099.1 1471.9,1102.0 1477.7,1096.2 1486.4,1107.8 1495.1,1103.5 1499.4,1107.8 1505.2,1102.0 1509.6,1106.4 1516.8,1106.4 1519.7,1099.1 1529.9,1094.8 1535.7,1102.0 1545.8,1107.8 1554.5,1099.1 1561.7,1094.8 1567.5,1102.0 1576.2,1104.9 1586.4,1107.8 1596.5,1100.6 1603.8,1104.9 1609.6,1110.7 1619.7,1109.3 1628.4,1113.6 1635.7,1103.5 1641.4,1096.2 1648.7,1103.5 1655.9,1102.0 1664.6,1094.8 1671.9,1091.9 1680.6,1097.7 1687.8,1099.1 1695.1,1091.9 1696.9,1092.8 1704.3,1105.4 1711.7,1100.2 1717.0,1105.4 1724.3,1116.0 1730.7,1109.6 1738.0,1109.6 1743.3,1103.8"/>

<g class="pk">
<text transform="translate(681.8,120.6) scale(0.945,1)" text-anchor="middle">(1 1 2)</text>
<text transform="translate(627.4,313.8) scale(0.945,1)" text-anchor="middle">(2 1 1)</text>
<text transform="translate(527.4,755.6) scale(0.945,1)" text-anchor="middle">(0 0 2)</text>
<text transform="translate(839.4,700.3) scale(0.945,1)" text-anchor="middle">(3 1 0)</text>
<text transform="translate(995.0,923.3) scale(0.945,1)" text-anchor="middle">(2 2 2)</text>
<text transform="translate(1100.5,876.9) scale(0.945,1)" text-anchor="middle">(3 2 1)</text>
<text transform="translate(1160.5,1023.9) scale(0.945,1)" text-anchor="middle">(0 0 4)</text>
</g>
<g fill="#fefefe">
<rect x="138.7" y="1380.4" width="11.5" height="9.4"/>
<rect x="158.9" y="1380.4" width="10.6" height="9.4"/>
<rect x="643.3" y="115.7" width="6.8" height="5.7"/>
<rect x="655.3" y="115.7" width="6.3" height="5.7"/>
<rect x="673.3" y="115.7" width="6.8" height="5.7"/>
<rect x="685.2" y="115.7" width="6.3" height="5.7"/>
<rect x="618.9" y="308.9" width="6.8" height="5.7"/>
<rect x="630.8" y="308.9" width="6.3" height="5.7"/>
<rect x="648.8" y="308.9" width="6.8" height="5.7"/>
<rect x="660.8" y="308.9" width="6.3" height="5.7"/>
<rect x="830.9" y="695.4" width="6.8" height="5.7"/>
<rect x="842.8" y="695.4" width="6.3" height="5.7"/>
<rect x="1121.9" y="872.0" width="6.8" height="5.7"/>
<rect x="1133.9" y="872.0" width="6.3" height="5.7"/>
</g>
<!-- legend -->
<g class="lg">
<rect x="1404.7" y="83.8" width="282.6" height="171.6" fill="none" stroke="#000" stroke-width="2.6"/>
<rect x="1403.4" y="82.5" width="285.2" height="2.2" fill="#c9bcc0"/>
<rect x="1409" y="124" width="155.5" height="7.6" fill="#00ff00"/>
<rect x="1409" y="205.3" width="155.5" height="8" fill="#0000ff"/>
<text transform="translate(1637.3,150.7) scale(0.942,1)" text-anchor="middle">(A)</text>
<text transform="translate(1634.5,232.2) scale(0.942,1)" text-anchor="middle">(B)</text>
</g>
<!-- axis titles -->
<text font-size="63px" text-anchor="middle" transform="translate(69.2,639) rotate(-90) scale(0.941,1)">Intensity (Counts)</text>
<text font-size="62px" text-anchor="middle" transform="translate(871,1489) scale(0.93,1)">2</text>
<text font-size="58px" text-anchor="middle" transform="translate(920.1,1488.2) scale(1.1,1)" style="font-family:'Liberation Serif','DejaVu Serif',serif;font-weight:normal;stroke:#000;stroke-width:1.1px;">θ</text>
</svg>
</body>
</html>
